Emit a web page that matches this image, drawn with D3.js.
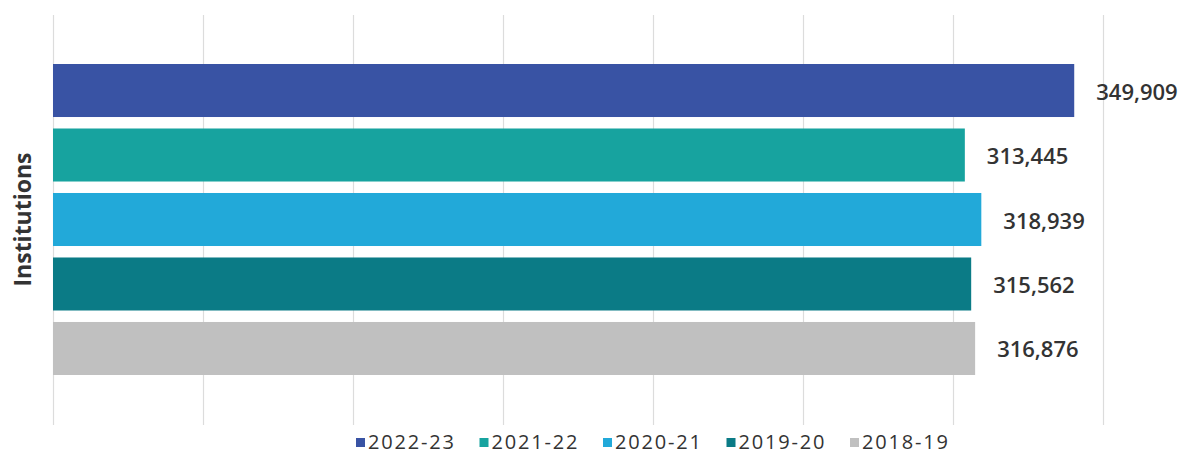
<!DOCTYPE html>
<html>
<head>
<meta charset="utf-8">
<script src="https://cdn.jsdelivr.net/npm/d3@7"></script>
<style>
  html, body { margin: 0; padding: 0; background: #fff; }
  svg { display: block; }
</style>
</head>
<body>
<svg id="chart" width="1191" height="455"></svg>
<script>
// ---- data ----
const category = "Institutions";
const seriesNames = ["2022-23", "2021-22", "2020-21", "2019-20", "2018-19"];
const seriesValues = [349909, 313445, 318939, 315562, 316876];
const seriesColors = ["#3953a4", "#17a39f", "#22a9d9", "#0b7b86", "#c0c0c0"];

// ---- layout ----
const svg = d3.select("#chart");
const plotLeft = 53, plotRight = 1103, gridTop = 15, gridBottom = 425;

const x = d3.scaleLinear().domain([9500, 359500]).range([plotLeft, plotRight]);
const y = d3.scaleBand().domain(seriesNames).range([64, 375]).paddingInner(0.178).paddingOuter(0);

// gridlines
const gridVals = d3.range(9500, 359500 + 1, 50000);
svg.append("g").selectAll("line").data(gridVals).join("line")
  .attr("x1", d => Math.round(x(d)) + 0.5).attr("x2", d => Math.round(x(d)) + 0.5)
  .attr("y1", gridTop).attr("y2", gridBottom)
  .attr("stroke", "#dcdcdc").attr("stroke-width", 1.2);

// bars
const data = seriesNames.map((s, i) => ({ name: s, value: seriesValues[i], color: seriesColors[i] }));
svg.append("g").selectAll("rect").data(data).join("rect")
  .attr("x", x(9500))
  .attr("y", d => y(d.name))
  .attr("width", d => x(d.value) - x(9500))
  .attr("height", y.bandwidth())
  .attr("fill", d => d.color);

// value labels
const fmt = d3.format(",");
svg.append("g").selectAll("text").data(data).join("text")
  .attr("x", d => x(d.value) + 22)
  .attr("y", d => y(d.name) + y.bandwidth() / 2)
  .attr("dominant-baseline", "central")
  .attr("font-family", "'Open Sans', sans-serif")
  .attr("font-weight", 600)
  .attr("font-size", 22)
  .attr("fill", "#333")
  .text(d => fmt(d.value));

// y-axis category label
svg.append("text")
  .attr("transform", `translate(22, ${(64 + 375) / 2}) rotate(-90)`)
  .attr("text-anchor", "middle")
  .attr("dominant-baseline", "central")
  .attr("font-family", "'Open Sans', sans-serif")
  .attr("font-weight", 700)
  .attr("font-size", 23)
  .attr("fill", "#333")
  .text(category);

// legend
const legend = svg.append("g");
const legendStart = 356, legendStep = 123.5, legendBaseline = 449;
const items = legend.selectAll("g").data(data).join("g")
  .attr("transform", (d, i) => `translate(${legendStart + i * legendStep}, ${legendBaseline})`);
items.append("rect")
  .attr("x", 0).attr("y", -11).attr("width", 9).attr("height", 9)
  .attr("fill", d => d.color);
items.append("text")
  .attr("x", 12).attr("y", 0)
  .attr("font-family", "'Open Sans', sans-serif")
  .attr("font-size", 20)
  .attr("letter-spacing", 1.8)
  .attr("fill", "#333")
  .text(d => d.name);
</script>
</body>
</html>
